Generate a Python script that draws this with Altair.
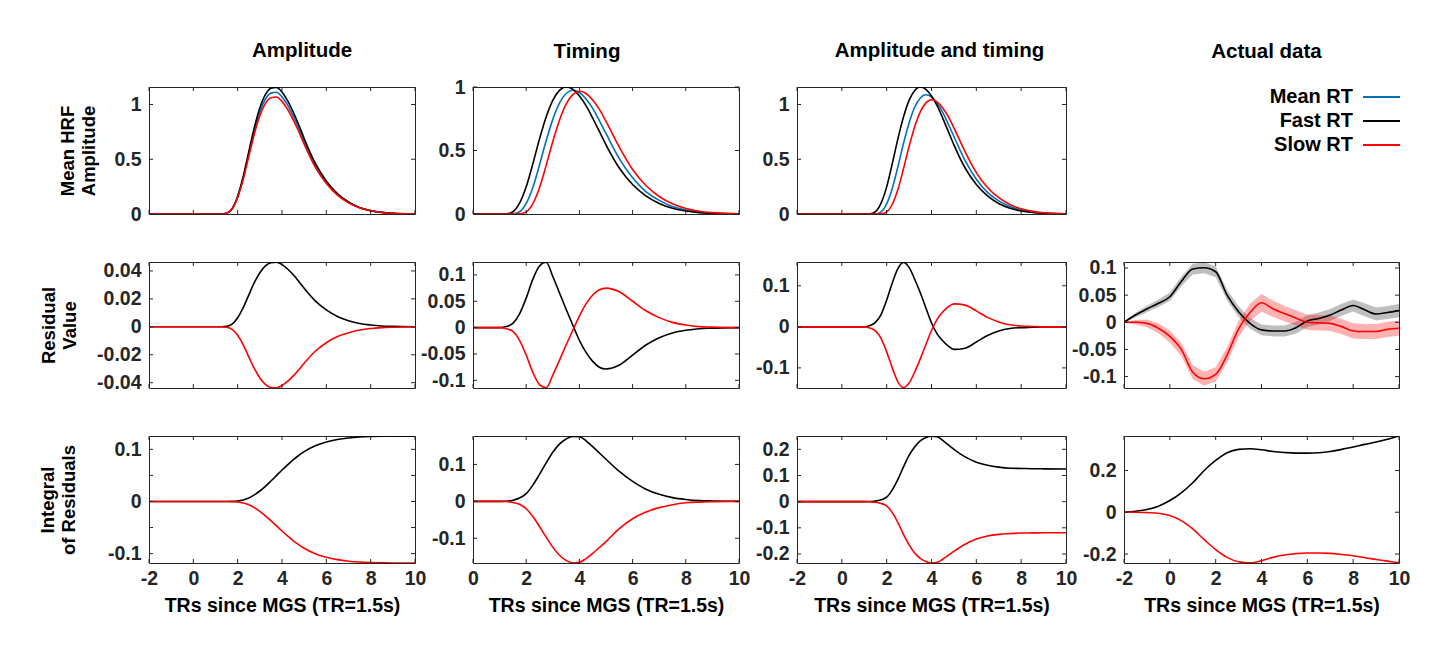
import altair as alt
import pandas as pd

FONT = "Liberation Sans"
AXC = "#262626"

# ---------------- data ----------------
SERIES = ["Mean RT", "Fast RT", "Slow RT"]
SERIES_COLORS = ["#0072BD", "#000000", "#FF0000"]
COL_TITLES = ["Amplitude", "Timing", "Amplitude and timing", "Actual data"]
ROW_TITLES = [["Mean HRF", "Amplitude"], ["Residual", "Value"], ["Integral", "of Residuals"]]
X_TITLE = "TRs since MGS (TR=1.5s)"
X_TICKS = [-2, 0, 2, 4, 6, 8, 10]
X_TICKS_TIMING = [0, 2, 4, 6, 8, 10]

X_MODEL = [-2, -1, 0, 1, 1.25, 1.5, 1.75, 2, 2.25, 2.5, 2.75, 3, 3.25, 3.5, 3.75,
           4, 4.25, 4.5, 4.75, 5, 5.5, 6, 6.5, 7, 7.5, 8, 8.5, 9, 10]

# Amplitude model
AMP_MEAN = [0, 0, 0, 0, 0, 0.007, 0.047, 0.156, 0.329, 0.546, 0.758, 0.931, 1.048, 1.104, 1.112,
            1.070, 0.996, 0.898, 0.786, 0.663, 0.446, 0.290, 0.178, 0.106, 0.058, 0.030, 0.015, 0.007, 0.001]
AMP_FAST = [0, 0, 0, 0, 0, 0.007, 0.049, 0.162, 0.342, 0.568, 0.789, 0.969, 1.090, 1.148, 1.157,
            1.114, 1.036, 0.934, 0.818, 0.690, 0.464, 0.302, 0.186, 0.110, 0.060, 0.031, 0.015, 0.007, 0.001]
AMP_SLOW = [0, 0, 0, 0, 0, 0.006, 0.045, 0.150, 0.316, 0.525, 0.729, 0.895, 1.008, 1.061, 1.069,
            1.029, 0.957, 0.863, 0.756, 0.638, 0.429, 0.279, 0.172, 0.102, 0.056, 0.029, 0.014, 0.006, 0.001]
AMP_RES_FAST = [0, 0, 0, 0, 0, 0.0003, 0.0019, 0.0065, 0.0137, 0.0227, 0.0316, 0.0387, 0.0436, 0.0459, 0.0463,
                0.0445, 0.0414, 0.0374, 0.0327, 0.0276, 0.0186, 0.0121, 0.0074, 0.0044, 0.0024, 0.0013, 0.0006, 0.0003, 0.0]
AMP_RES_SLOW = [0, 0, 0, 0, 0, -0.0003, -0.0018, -0.0061, -0.0129, -0.0215, -0.0298, -0.0366, -0.0412, -0.0434, -0.0437,
                -0.0420, -0.0391, -0.0353, -0.0309, -0.0261, -0.0175, -0.0114, -0.0070, -0.0042, -0.0023, -0.0012, -0.0006, -0.0003, 0.0]
AMP_INT_FAST = [0, 0, 0, 0, 0, 0.0, 0.0002, 0.0010, 0.0030, 0.0068, 0.0126, 0.0201, 0.0291, 0.0392, 0.0497,
                0.0603, 0.0703, 0.0798, 0.0882, 0.0955, 0.1068, 0.1140, 0.1188, 0.1218, 0.1237, 0.1247, 0.1252, 0.1255, 0.1256]
AMP_INT_SLOW = [0, 0, 0, 0, 0, 0.0, -0.0002, -0.0009, -0.0028, -0.0064, -0.0118, -0.0189, -0.0274, -0.0368, -0.0467,
                -0.0566, -0.0661, -0.0749, -0.0828, -0.0897, -0.1003, -0.1071, -0.1116, -0.1145, -0.1162, -0.1172, -0.1176, -0.1179, -0.1180]

# Timing model
TIM_MEAN = [0, 0, 0, 0, 0, 0.001, 0.018, 0.083, 0.209, 0.386, 0.576, 0.745, 0.873, 0.949, 0.975,
            0.957, 0.906, 0.832, 0.736, 0.634, 0.436, 0.285, 0.177, 0.107, 0.060, 0.032, 0.016, 0.007, 0.001]
TIM_FAST = [0, 0, 0, 0, 0.001, 0.018, 0.085, 0.214, 0.396, 0.591, 0.764, 0.895, 0.973, 1.000, 0.982,
            0.929, 0.853, 0.755, 0.650, 0.545, 0.362, 0.232, 0.143, 0.083, 0.045, 0.023, 0.011, 0.005, 0.001]
TIM_SLOW = [0, 0, 0, 0, 0, 0.0, 0.001, 0.017, 0.082, 0.207, 0.383, 0.571, 0.738, 0.865, 0.940,
            0.966, 0.949, 0.897, 0.824, 0.729, 0.526, 0.350, 0.224, 0.138, 0.080, 0.043, 0.022, 0.011, 0.002]
TIM_RES_FAST = [0, 0, 0, 0, 0.002, 0.008, 0.026, 0.056, 0.092, 0.117, 0.124, 0.097, 0.066, 0.035, 0.005,
                -0.024, -0.047, -0.064, -0.075, -0.0785, -0.071, -0.052, -0.033, -0.019, -0.010, -0.005, -0.002, -0.001, 0.0]
TIM_RES_SLOW = [0, 0, 0, 0, -0.002, -0.007, -0.024, -0.052, -0.085, -0.108, -0.114, -0.090, -0.062, -0.033, -0.005,
                0.022, 0.045, 0.062, 0.072, 0.075, 0.068, 0.050, 0.032, 0.019, 0.010, 0.005, 0.002, 0.001, 0.0]
TIM_INT_FAST = [0, 0, 0, 0, 0.0004, 0.003, 0.009, 0.021, 0.044, 0.073, 0.104, 0.133, 0.155, 0.169, 0.176,
                0.175, 0.164, 0.148, 0.131, 0.114, 0.081, 0.054, 0.033, 0.019, 0.010, 0.005, 0.002, 0.001, 0.0]
TIM_INT_SLOW = [0, 0, 0, 0, -0.0004, -0.003, -0.008, -0.020, -0.041, -0.068, -0.097, -0.124, -0.146, -0.160, -0.1665,
                -0.165, -0.155, -0.141, -0.125, -0.109, -0.074, -0.047, -0.029, -0.017, -0.009, -0.004, -0.002, -0.001, 0.0]

# Amplitude and timing model
AT_MEAN = [0, 0, 0, 0, 0, 0.001, 0.020, 0.093, 0.233, 0.431, 0.644, 0.832, 0.975, 1.060, 1.089,
           1.069, 1.012, 0.929, 0.822, 0.708, 0.487, 0.318, 0.198, 0.120, 0.068, 0.036, 0.017, 0.008, 0.001]
AT_FAST = [0, 0, 0, 0, 0.001, 0.021, 0.099, 0.248, 0.459, 0.686, 0.886, 1.038, 1.129, 1.160, 1.139,
           1.078, 0.989, 0.876, 0.754, 0.632, 0.420, 0.269, 0.166, 0.096, 0.052, 0.027, 0.013, 0.006, 0.001]
AT_SLOW = [0, 0, 0, 0, 0, 0.0, 0.001, 0.019, 0.089, 0.223, 0.413, 0.616, 0.797, 0.933, 1.015,
           1.043, 1.024, 0.969, 0.890, 0.787, 0.568, 0.378, 0.242, 0.149, 0.087, 0.047, 0.024, 0.011, 0.002]
AT_RES_FAST = [0, 0, 0, 0, 0.003, 0.011, 0.030, 0.065, 0.107, 0.142, 0.157, 0.145, 0.116, 0.083, 0.046,
               0.010, -0.017, -0.034, -0.047, -0.055, -0.052, -0.037, -0.021, -0.010, -0.004, -0.002, -0.001, 0.0, 0.0]
AT_RES_SLOW = [0, 0, 0, 0, -0.003, -0.010, -0.028, -0.061, -0.100, -0.134, -0.148, -0.137, -0.110, -0.078, -0.043,
               -0.009, 0.018, 0.036, 0.049, 0.056, 0.053, 0.039, 0.023, 0.012, 0.005, 0.002, 0.001, 0.0, 0.0]
AT_INT_FAST = [0, 0, 0, 0, 0.0005, 0.002, 0.007, 0.017, 0.045, 0.085, 0.133, 0.177, 0.209, 0.232, 0.245,
               0.250, 0.248, 0.234, 0.217, 0.200, 0.171, 0.151, 0.139, 0.132, 0.128, 0.127, 0.126, 0.1255, 0.125]
AT_INT_SLOW = [0, 0, 0, 0, -0.0005, -0.002, -0.007, -0.016, -0.042, -0.080, -0.125, -0.165, -0.196, -0.217, -0.229,
               -0.234, -0.232, -0.220, -0.205, -0.190, -0.163, -0.143, -0.131, -0.125, -0.122, -0.120, -0.1195, -0.119, -0.119]

# Actual data
X_DATA = [-2, -1.5, -1, -0.5, 0, 0.5, 1, 1.5, 2, 2.5, 3, 3.5, 4, 4.5, 5, 5.5, 6, 6.5, 7, 7.5, 8, 8.5, 9, 9.5, 10]
DATA_RES_FAST = [0.0, 0.0135, 0.0245, 0.035, 0.047, 0.075, 0.098, 0.1005, 0.093, 0.050, 0.0196, -0.002, -0.014,
                 -0.016, -0.016, -0.010, 0.0025, 0.007, 0.0135, 0.023, 0.031, 0.023, 0.0153, 0.018, 0.0215]
DATA_RES_FAST_SE = [0.001, 0.004, 0.006, 0.007, 0.008, 0.009, 0.010, 0.010, 0.010, 0.010, 0.010, 0.010, 0.010,
                    0.010, 0.010, 0.011, 0.011, 0.011, 0.011, 0.011, 0.011, 0.012, 0.012, 0.012, 0.012]
DATA_RES_SLOW = [0.0, 0.0, -0.002, -0.011, -0.026, -0.050, -0.092, -0.104, -0.096, -0.060, -0.012, 0.018, 0.036,
                 0.025, 0.016, 0.008, 0.0, -0.001, -0.002, -0.008, -0.016, -0.017, -0.017, -0.013, -0.011]
DATA_RES_SLOW_SE = [0.001, 0.004, 0.007, 0.009, 0.011, 0.012, 0.013, 0.013, 0.013, 0.014, 0.015, 0.016, 0.016,
                    0.015, 0.014, 0.014, 0.014, 0.014, 0.014, 0.014, 0.014, 0.014, 0.014, 0.014, 0.014]
DATA_INT_FAST = [0.0, 0.005, 0.013, 0.029, 0.056, 0.093, 0.141, 0.200, 0.248, 0.285, 0.301, 0.304, 0.299,
                 0.291, 0.286, 0.283, 0.283, 0.285, 0.291, 0.301, 0.312, 0.325, 0.336, 0.349, 0.365]
DATA_INT_SLOW = [0.0, 0.0, -0.002, -0.005, -0.016, -0.040, -0.080, -0.131, -0.179, -0.216, -0.237, -0.242, -0.232,
                 -0.216, -0.205, -0.198, -0.195, -0.195, -0.197, -0.202, -0.208, -0.218, -0.226, -0.234, -0.242]

# ---------------- layout / style ----------------
COL_W = [266, 266, 269, 275]
ROW_H = [127, 126, 127]
TICK_LEN = 4
TITLE_DX = [20, -19, 8, 5]
TITLE_OFFSET = [25, 15, 25, 25]
YTITLE_PAD = [15.5, 17.5, 28.5]
LABEL_SIZE = 19.5
TITLE_SIZE = 20.5
XTITLE_SIZE = 19.5
YTITLE_SIZE = 18.5
LEGEND_SIZE = 20

color_scale = alt.Scale(domain=SERIES, range=SERIES_COLORS)


def panel(x_vals, curves, xdom, ydom, xticks, ylabels, yticks, w, h,
          bottom=False, ytitle=None, ytitle_pad=0, title=None, title_dx=0, title_offset=25, bands=()):
    rows = []
    for name, vals in curves:
        for xv, yv in zip(x_vals, vals):
            if xv >= xdom[0]:
                rows.append({"x": xv, "y": yv, "series": name})
    df = pd.DataFrame(rows)
    xs = alt.Scale(domain=xdom, nice=False, zero=False)
    ys = alt.Scale(domain=ydom, nice=False, zero=False)

    if bottom:
        xaxis = alt.Axis(values=xticks, labelExpr="'' + datum.value", ticks=False, domain=False,
                         grid=False, labelFontSize=LABEL_SIZE, labelFontWeight="bold", labelColor=AXC,
                         labelPadding=6, labelFlush=False, labelOverlap=False,
                         title=X_TITLE, titleFontSize=XTITLE_SIZE, titleFontWeight="bold",
                         titleColor="black", titlePadding=9)
    else:
        xaxis = None
    yaxis = alt.Axis(values=ylabels, labelExpr="'' + datum.value", ticks=False, domain=False,
                     grid=False, labelFontSize=LABEL_SIZE, labelFontWeight="bold", labelColor=AXC,
                     labelPadding=8, labelFlush=False, labelOverlap=False,
                     title=ytitle, titleFontSize=YTITLE_SIZE, titleFontWeight="bold", titleColor="black",
                     titleLineHeight=21, titlePadding=ytitle_pad)

    def X(field):
        return alt.X(field, scale=xs, axis=xaxis)

    def Y(field):
        return alt.Y(field, scale=ys, axis=yaxis)

    layers = []
    for bx, mean, se, col, op in bands:
        bdf = pd.DataFrame({"x": bx,
                            "lo": [m - s for m, s in zip(mean, se)],
                            "hi": [m + s for m, s in zip(mean, se)]})
        layers.append(alt.Chart(bdf).mark_area(color=col, opacity=op, clip=True)
                      .encode(x=X("x:Q"), y=Y("lo:Q"), y2="hi:Q"))

    layers.append(alt.Chart(df).mark_line(strokeWidth=1.6, interpolate="monotone", clip=True)
                  .encode(x=X("x:Q"), y=Y("y:Q"),
                          color=alt.Color("series:N", scale=color_scale, legend=None)))

    xt = pd.DataFrame({"v": xticks})
    yt = pd.DataFrame({"v": yticks})
    tk = dict(color=AXC, strokeWidth=1)
    layers.append(alt.Chart(xt).mark_rule(**tk).encode(x=X("v:Q"), y=alt.value(0), y2=alt.value(TICK_LEN)))
    layers.append(alt.Chart(xt).mark_rule(**tk).encode(x=X("v:Q"), y=alt.value(h - TICK_LEN), y2=alt.value(h)))
    layers.append(alt.Chart(yt).mark_rule(**tk).encode(y=Y("v:Q"), x=alt.value(0), x2=alt.value(TICK_LEN)))
    layers.append(alt.Chart(yt).mark_rule(**tk).encode(y=Y("v:Q"), x=alt.value(w - TICK_LEN), x2=alt.value(w)))

    props = dict(width=w, height=h)
    if title:
        props["title"] = alt.TitleParams(text=title, fontSize=TITLE_SIZE, fontWeight="bold", color="black",
                                         anchor="middle", frame="group", offset=title_offset, dx=title_dx)
    return alt.layer(*layers).properties(**props)


def legend_panel(w, h, title, title_dx, title_offset):
    ldf = pd.DataFrame({"series": SERIES})
    ly = alt.Y("series:N", scale=alt.Scale(type="point", domain=SERIES, range=[10, 58], padding=0), axis=None)
    txt = alt.Chart(ldf).mark_text(align="right", baseline="middle", fontSize=LEGEND_SIZE, fontWeight="bold",
                                   color="black").encode(y=ly, x=alt.value(229), text="series:N")
    lines = alt.Chart(ldf).mark_rule(strokeWidth=2).encode(
        y=ly, x=alt.value(239), x2=alt.value(276),
        color=alt.Color("series:N", scale=color_scale, legend=None))
    return alt.layer(txt, lines).properties(
        width=w, height=h,
        view=alt.ViewBackground(stroke="transparent"),
        title=alt.TitleParams(text=title, fontSize=TITLE_SIZE, fontWeight="bold", color="black",
                              anchor="middle", frame="group", offset=title_offset, dx=title_dx))


XD = [-2, 10]
XD_T = [0, 10]
panels = [
    # row 1
    panel(X_MODEL, [("Mean RT", AMP_MEAN), ("Fast RT", AMP_FAST), ("Slow RT", AMP_SLOW)],
          XD, [0, 1.16], X_TICKS, [0, 0.5, 1], [0, 0.5, 1], COL_W[0], ROW_H[0],
          ytitle=ROW_TITLES[0], ytitle_pad=YTITLE_PAD[0], title=COL_TITLES[0], title_dx=TITLE_DX[0],
          title_offset=TITLE_OFFSET[0]),
    panel(X_MODEL, [("Mean RT", TIM_MEAN), ("Fast RT", TIM_FAST), ("Slow RT", TIM_SLOW)],
          XD_T, [0, 1.0], X_TICKS_TIMING, [0, 0.5, 1], [0, 0.5, 1], COL_W[1], ROW_H[0],
          title=COL_TITLES[1], title_dx=TITLE_DX[1], title_offset=TITLE_OFFSET[1]),
    panel(X_MODEL, [("Mean RT", AT_MEAN), ("Fast RT", AT_FAST), ("Slow RT", AT_SLOW)],
          XD, [0, 1.16], X_TICKS, [0, 0.5, 1], [0, 0.5, 1], COL_W[2], ROW_H[0],
          title=COL_TITLES[2], title_dx=TITLE_DX[2], title_offset=TITLE_OFFSET[2]),
    legend_panel(COL_W[3], ROW_H[0], COL_TITLES[3], TITLE_DX[3], TITLE_OFFSET[3]),
    # row 2
    panel(X_MODEL, [("Fast RT", AMP_RES_FAST), ("Slow RT", AMP_RES_SLOW)],
          XD, [-0.0438, 0.0464], X_TICKS, [-0.04, -0.02, 0, 0.02, 0.04], [-0.04, -0.02, 0, 0.02, 0.04],
          COL_W[0], ROW_H[1], ytitle=ROW_TITLES[1], ytitle_pad=YTITLE_PAD[1]),
    panel(X_MODEL, [("Fast RT", TIM_RES_FAST), ("Slow RT", TIM_RES_SLOW)],
          XD_T, [-0.1145, 0.1245], X_TICKS_TIMING, [-0.1, -0.05, 0, 0.05, 0.1], [-0.1, -0.05, 0, 0.05, 0.1],
          COL_W[1], ROW_H[1]),
    panel(X_MODEL, [("Fast RT", AT_RES_FAST), ("Slow RT", AT_RES_SLOW)],
          XD, [-0.149, 0.158], X_TICKS, [-0.1, 0, 0.1], [-0.1, 0, 0.1], COL_W[2], ROW_H[1]),
    panel(X_DATA, [("Fast RT", DATA_RES_FAST), ("Slow RT", DATA_RES_SLOW)],
          XD, [-0.121, 0.111], X_TICKS, [-0.1, -0.05, 0, 0.05, 0.1], [-0.1, -0.05, 0, 0.05, 0.1],
          COL_W[3], ROW_H[1],
          bands=[(X_DATA, DATA_RES_FAST, DATA_RES_FAST_SE, "#000000", 0.25),
                 (X_DATA, DATA_RES_SLOW, DATA_RES_SLOW_SE, "#FF0000", 0.3)]),
    # row 3
    panel(X_MODEL, [("Fast RT", AMP_INT_FAST), ("Slow RT", AMP_INT_SLOW)],
          XD, [-0.118, 0.1256], X_TICKS, [-0.1, 0, 0.1], [-0.1, -0.05, 0, 0.05, 0.1],
          COL_W[0], ROW_H[2], bottom=True, ytitle=ROW_TITLES[2], ytitle_pad=YTITLE_PAD[2]),
    panel(X_MODEL, [("Fast RT", TIM_INT_FAST), ("Slow RT", TIM_INT_SLOW)],
          XD_T, [-0.167, 0.177], X_TICKS_TIMING, [-0.1, 0, 0.1], [-0.1, 0, 0.1],
          COL_W[1], ROW_H[2], bottom=True),
    panel(X_MODEL, [("Fast RT", AT_INT_FAST), ("Slow RT", AT_INT_SLOW)],
          XD, [-0.2345, 0.251], X_TICKS, [-0.2, -0.1, 0, 0.1, 0.2], [-0.2, -0.1, 0, 0.1, 0.2],
          COL_W[2], ROW_H[2], bottom=True),
    panel(X_DATA, [("Fast RT", DATA_INT_FAST), ("Slow RT", DATA_INT_SLOW)],
          XD, [-0.243, 0.365], X_TICKS, [-0.2, 0, 0.2], [-0.2, 0, 0.2],
          COL_W[3], ROW_H[2], bottom=True),
]

chart = alt.concat(*panels, columns=4, spacing={"row": 48, "column": 58},
                   align="each", bounds="flush").properties(
    padding={"left": 30, "top": 32, "right": 5, "bottom": 5},
    background="white",
).configure(font=FONT).configure_view(stroke=AXC, strokeWidth=1)

chart.save("out.html", embed_options={"renderer": "svg", "actions": False})
